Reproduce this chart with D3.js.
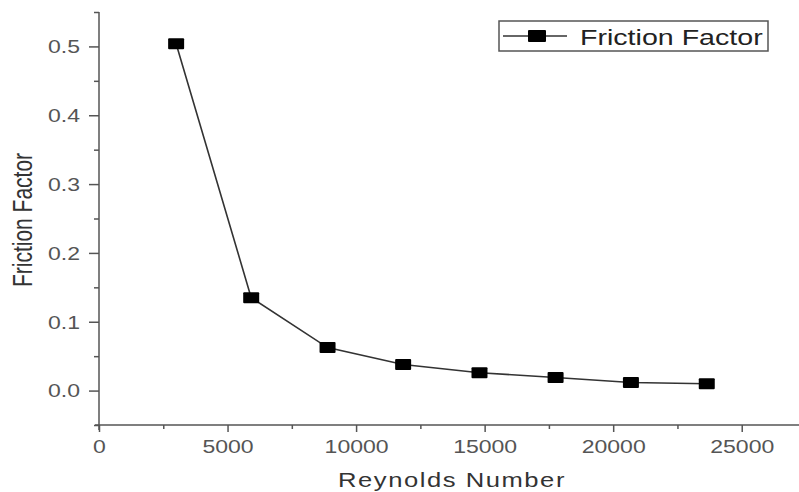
<!DOCTYPE html>
<html>
<head>
<meta charset="utf-8">
<script src="https://cdn.jsdelivr.net/npm/d3@7"></script>
<style>
  html, body { margin: 0; padding: 0; background: #fff; }
  svg { display: block; font-family: "Liberation Sans", Arial, sans-serif; }
</style>
</head>
<body>
<svg id="chart" width="799" height="492"></svg>
<script>
// Friction factor vs Reynolds number
const reynolds = [3000, 5920, 8890, 11830, 14800, 17760, 20690, 23640];
const friction = [0.504, 0.135, 0.0625, 0.038, 0.026, 0.019, 0.0118, 0.010];
const seriesName = "Friction Factor";
const xMajorTicks = [0, 5000, 10000, 15000, 20000, 25000];
const xMinorTicks = [2500, 7500, 12500, 17500, 22500, 27500];
const yMajorTicks = [0.0, 0.1, 0.2, 0.3, 0.4, 0.5];
const yMinorTicks = [-0.05, 0.05, 0.15, 0.25, 0.35, 0.45, 0.55];
const xTitle = "Reynolds Number";
const yTitle = "Friction Factor";

const svg = d3.select("#chart");
const stretch = 1.28; // horizontal widening of lettering

const x = d3.scaleLinear().domain([0, 27500]).range([99, 806]);
const y = d3.scaleLinear().domain([-0.05, 0.55]).range([425, 12]);

const axisColor = "#555";
const labelColor = "#555";

// Y axis: major ticks with labels
const yAxisG = svg.append("g").attr("transform", `translate(${x(0)},0)`);
yAxisG.call(d3.axisLeft(y).tickValues(yMajorTicks).tickSize(10).tickFormat(d3.format(".1f")));
yAxisG.select(".domain").remove();
yAxisG.selectAll(".tick line").attr("stroke", axisColor).attr("stroke-width", 1.5);
yAxisG.selectAll(".tick text")
  .attr("x", 0).attr("dy", "0.35em")
  .attr("transform", `translate(-19,0) scale(${stretch},1)`)
  .attr("fill", labelColor).attr("font-size", 18)
  .attr("font-family", "'Liberation Sans', Arial, sans-serif");

// Y axis: minor ticks
const yMinorG = svg.append("g").attr("transform", `translate(${x(0)},0)`);
yMinorG.call(d3.axisLeft(y).tickValues(yMinorTicks).tickSize(5).tickFormat(""));
yMinorG.select(".domain").remove();
yMinorG.selectAll(".tick line").attr("stroke", axisColor).attr("stroke-width", 1.5);

// Y axis line
svg.append("line")
  .attr("x1", x(0)).attr("x2", x(0))
  .attr("y1", y(0.55)).attr("y2", y(-0.05) + 5)
  .attr("stroke", axisColor).attr("stroke-width", 1.5);

// X axis: major ticks with labels
const xAxisG = svg.append("g").attr("transform", `translate(0,${y(-0.05)})`);
xAxisG.call(d3.axisBottom(x).tickValues(xMajorTicks).tickSize(7).tickFormat(d3.format("d")));
xAxisG.select(".domain").remove();
xAxisG.selectAll(".tick line").attr("stroke", axisColor).attr("stroke-width", 1.5);
xAxisG.selectAll(".tick text")
  .attr("y", 28).attr("dy", 0)
  .attr("transform", `scale(${stretch},1)`)
  .attr("fill", labelColor).attr("font-size", 18)
  .attr("font-family", "'Liberation Sans', Arial, sans-serif");

// X axis: minor ticks
const xMinorG = svg.append("g").attr("transform", `translate(0,${y(-0.05)})`);
xMinorG.call(d3.axisBottom(x).tickValues(xMinorTicks).tickSize(4).tickFormat(""));
xMinorG.select(".domain").remove();
xMinorG.selectAll(".tick line").attr("stroke", axisColor).attr("stroke-width", 1.5);

// X axis line
svg.append("line")
  .attr("x1", x(0) - 4).attr("x2", 799)
  .attr("y1", y(-0.05)).attr("y2", y(-0.05))
  .attr("stroke", axisColor).attr("stroke-width", 1.5);

// Axis titles
svg.append("text")
  .attr("transform", `translate(452,487) scale(${stretch},1)`)
  .attr("text-anchor", "middle")
  .attr("font-size", 20).attr("letter-spacing", 1.2)
  .attr("fill", "#333")
  .text(xTitle);

svg.append("text")
  .attr("transform", `translate(32,220) scale(${stretch},1) rotate(-90)`)
  .attr("text-anchor", "middle")
  .attr("font-size", 21)
  .attr("fill", "#333")
  .text(yTitle);

// Data line and markers
const pts = reynolds.map((r, i) => [r, friction[i]]);
svg.append("path")
  .datum(pts)
  .attr("fill", "none")
  .attr("stroke", "#333")
  .attr("stroke-width", 1.6)
  .attr("d", d3.line().x(d => x(d[0])).y(d => y(d[1])));

const mw = 16, mh = 11;
svg.append("g").selectAll("rect")
  .data(pts)
  .join("rect")
  .attr("x", d => x(d[0]) - mw / 2)
  .attr("y", d => y(d[1]) - mh / 2)
  .attr("width", mw).attr("height", mh)
  .attr("rx", 1)
  .attr("fill", "#000");

// Legend
const lg = svg.append("g");
lg.append("rect")
  .attr("x", 499).attr("y", 21).attr("width", 269).attr("height", 30)
  .attr("fill", "#fff").attr("stroke", "#555").attr("stroke-width", 1.5);
lg.append("line")
  .attr("x1", 503).attr("x2", 567).attr("y1", 36).attr("y2", 36)
  .attr("stroke", "#333").attr("stroke-width", 1.6);
lg.append("rect")
  .attr("x", 537 - 9).attr("y", 36 - 6).attr("width", 18).attr("height", 12)
  .attr("rx", 1).attr("fill", "#000");
lg.append("text")
  .attr("transform", `translate(580,45) scale(1.3,1)`)
  .attr("font-size", 22)
  .attr("fill", "#222")
  .text(seriesName);
</script>
</body>
</html>
